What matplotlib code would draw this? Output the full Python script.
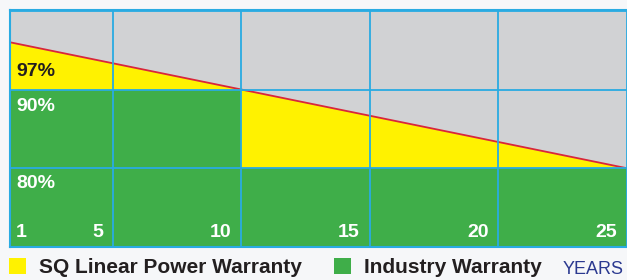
import matplotlib.pyplot as plt
import numpy as np

plt.rcParams['font.family'] = ['Liberation Sans', 'DejaVu Sans']

# --- DATA ---
sq_years = [1, 25]
sq_pct = [96, 80]
industry_years = [1, 10, 25]
industry_pct = [90, 80, 80]
year_ticks = [1, 5, 10, 15, 20, 25]
year_labels = ['1', '5', '10', '15', '20', '25']
pct_label_text = ['97%', '90%', '80%']
pct_label_y = [92.3, 87.85, 78.1]
pct_label_color = ['#231f20', 'white', 'white']
legend_labels = ['SQ Linear Power Warranty', 'Industry Warranty']

# --- STYLE ---
GREY = '#d1d2d4'
YELLOW = '#fff200'
GREEN = '#3fae49'
BLUE = '#29abe2'
RED = '#d9263a'
DARK = '#231f20'
NAVY = '#2b3990'
BG = '#f6f7f9'

W, H = 627, 280
fig = plt.figure(figsize=(W / 100, H / 100), dpi=100, facecolor=BG)
ax = fig.add_axes([10 / W, (H - 247) / H, (W - 10) / W, (247 - 10) / H])
ax.set_facecolor(GREY)
ax.set_xlim(1, 25)
ax.set_ylim(70, 100.1)

yellow = ax.fill_between(sq_years, sq_pct, 70, color=YELLOW, lw=0, zorder=1)
green = ax.fill_between(industry_years, industry_pct, 70, step='post',
                        color=GREEN, lw=0, zorder=1.2)
ax.plot(sq_years, sq_pct, color=RED, lw=1.3, zorder=2)

ax.set_xticks(year_ticks[1:])
ax.set_yticks([80, 90, 100])
ax.set_axisbelow(False)
ax.grid(True, color=BLUE, lw=1.3)
ax.tick_params(length=0, labelbottom=False, labelleft=False)
for side in ['left', 'bottom', 'top']:
    ax.spines[side].set_color(BLUE)
    ax.spines[side].set_linewidth(1.5)
ax.spines['right'].set_visible(False)

# year labels inside the plot
for x, lab in zip(year_ticks, year_labels):
    if x == year_ticks[0]:
        ax.annotate(lab, (x, 71.9), xytext=(6, 0), textcoords='offset pixels',
                    ha='left', va='center', color='white', fontsize=14,
                    fontweight='bold', zorder=5)
    else:
        ax.annotate(lab, (x, 71.9), xytext=(-10, 0), textcoords='offset pixels',
                    ha='right', va='center', color='white', fontsize=14,
                    fontweight='bold', zorder=5)

for txt, y, c in zip(pct_label_text, pct_label_y, pct_label_color):
    ax.annotate(txt, (1, y), xytext=(6, 0), textcoords='offset pixels',
                ha='left', va='center', color=c, fontsize=14,
                fontweight='bold', zorder=5)

leg = fig.legend([yellow, green], legend_labels, loc='lower left',
                 bbox_to_anchor=(9 / W, 3 / H), ncol=2, frameon=False,
                 prop={'weight': 'bold', 'size': 15},
                 handlelength=0.82, handleheight=0.82, handletextpad=0.62,
                 columnspacing=1.55, borderpad=0, borderaxespad=0)
for t in leg.get_texts():
    t.set_color(DARK)

fig.text(563 / W, (H - 274) / H, 'YEARS', color=NAVY, fontsize=13,
         ha='left', va='baseline')

fig.savefig('out.png', dpi=100, facecolor=BG)
